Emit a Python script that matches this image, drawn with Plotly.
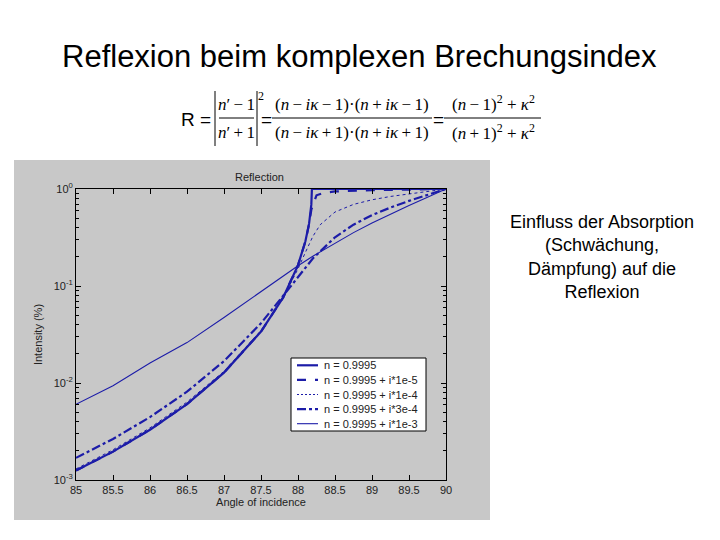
import plotly.graph_objects as go

W, H = 720, 540

# ---- data ----
angles_k0 = [85, 85.5, 86, 86.5, 87, 87.5, 87.8, 88, 88.1, 88.15, 88.18, 88.188, 88.5, 89, 89.5, 90]
refl_k0 = [0.00125, 0.00196, 0.0033, 0.00607, 0.0128, 0.0339, 0.0763, 0.164, 0.289, 0.442, 0.69, 1.0, 1.0, 1.0, 1.0, 1.0]

angles_k1 = [85, 85.5, 86, 86.5, 87, 87.5, 87.8, 88, 88.1, 88.15, 88.18, 88.2, 88.25, 88.35, 88.5, 89, 89.5, 90]
refl_k1 = [0.00125, 0.00196, 0.0033, 0.00607, 0.0128, 0.0339, 0.0763, 0.164, 0.288, 0.433, 0.611, 0.67, 0.862, 0.916, 0.943, 0.973, 0.989, 1.0]

angles_k2 = [85, 85.5, 86, 86.5, 87, 87.5, 87.8, 88, 88.1, 88.15, 88.2, 88.3, 88.5, 88.75, 89, 89.25, 89.5, 89.75, 90]
refl_k2 = [0.0013, 0.00205, 0.00345, 0.00636, 0.0132, 0.0348, 0.0761, 0.150, 0.222, 0.269, 0.324, 0.428, 0.579, 0.694, 0.774, 0.838, 0.894, 0.947, 1.0]

angles_k3 = [85, 85.5, 86, 86.5, 87, 87.5, 87.8, 88, 88.2, 88.5, 88.75, 89, 89.25, 89.5, 89.75, 90]
refl_k3 = [0.00169, 0.00265, 0.00445, 0.00813, 0.0168, 0.0413, 0.0793, 0.125, 0.192, 0.318, 0.429, 0.538, 0.644, 0.755, 0.872, 1.0]

angles_k4 = [85, 85.5, 86, 86.5, 87, 87.5, 87.8, 88, 88.2, 88.5, 88.75, 89, 89.25, 89.5, 89.75, 90]
refl_k4 = [0.00602, 0.00939, 0.0161, 0.0261, 0.0473, 0.0879, 0.128, 0.162, 0.203, 0.278, 0.355, 0.446, 0.551, 0.675, 0.823, 1.0]

series_names = ["n = 0.9995", "n = 0.9995 + i*1e-5", "n = 0.9995 + i*1e-4",
                "n = 0.9995 + i*3e-4", "n = 0.9995 + i*1e-3"]

x_ticks = [85, 85.5, 86, 86.5, 87, 87.5, 88, 88.5, 89, 89.5, 90]
x_tick_labels = ["85", "85.5", "86", "86.5", "87", "87.5", "88", "88.5", "89", "89.5", "90"]
y_ticks = [1e-3, 1e-2, 1e-1, 1.0]
y_tick_labels = ["10<sup>-3</sup>", "10<sup>-2</sup>", "10<sup>-1</sup>", "10<sup>0</sup>"]
y_minor = [m * d for d in (1e-3, 1e-2, 1e-1) for m in range(2, 10)]

# ---- styling ----
LINE = "#1c1ca8"
dashes = ["solid", "dash", "dot", "dashdot", "solid"]
widths = [2.2, 2.2, 1, 2.2, 1.1]
xs = [angles_k0, angles_k1, angles_k2, angles_k3, angles_k4]
ys = [refl_k0, refl_k1, refl_k2, refl_k3, refl_k4]

# the page body adds an 8 px offset; positions below are slide pixels
OFF = 8


def px(x):
    return (x - OFF) / W


def py(y):
    return 1 - (y - OFF) / H


fig = go.Figure()
for name, x, y, d, w in zip(series_names, xs, ys, dashes, widths):
    fig.add_trace(go.Scatter(x=x, y=y, mode="lines", name=name, showlegend=False,
                             line=dict(color=LINE, width=w, dash=d)))

# plot area pixels
PL, PR, PT, PB = 76, 446, 189, 480

axis_font = dict(family="Liberation Sans, Arial, sans-serif", size=11, color="#222")

fig.update_layout(
    width=W, height=H,
    margin=dict(l=0, r=0, t=0, b=0, pad=0, autoexpand=False),
    paper_bgcolor="white",
    plot_bgcolor="white",
    showlegend=False,
    xaxis=dict(domain=[px(PL), px(PR)], range=[85, 90],
               tickvals=x_ticks, ticktext=x_tick_labels,
               ticks="inside", ticklen=5, tickcolor="black",
               showline=True, linecolor="black", linewidth=1, mirror="ticks",
               showgrid=False, zeroline=False, tickfont=axis_font, automargin=False,
               title=dict(text="Angle of incidence", font=axis_font, standoff=2)),
    yaxis=dict(domain=[py(PB), py(PT)], type="log", range=[-3, 0],
               tickvals=y_ticks, ticktext=y_tick_labels,
               ticks="inside", ticklen=5, tickcolor="black",
               minor=dict(tickvals=y_minor, ticks="inside", ticklen=3, tickcolor="black", showgrid=False),
               showline=True, linecolor="black", linewidth=1, mirror="ticks",
               showgrid=False, zeroline=False, tickfont=axis_font, automargin=False,
               title=dict(text="Intensity (%)", font=axis_font, standoff=8)),
)

# gray figure panel behind the chart
fig.add_shape(type="rect", xref="paper", yref="paper",
              x0=px(14), x1=px(490), y0=py(520), y1=py(160),
              fillcolor="#c8c8c8", line=dict(width=0), layer="below")

ann = []
# slide title
ann.append(dict(text="Reflexion beim komplexen Brechungsindex", x=px(359), y=py(56),
                font=dict(family="Liberation Sans, Arial, sans-serif", size=31, color="black")))
# chart title
ann.append(dict(text="Reflection", x=px(260), y=py(177),
                font=dict(family="Liberation Sans, Arial, sans-serif", size=11, color="#222")))
# side text
ann.append(dict(text="Einfluss der Absorption<br>(Schwächung,<br>Dämpfung) auf die<br>Reflexion",
                x=px(602), y=py(257), align="center",
                font=dict(family="Liberation Sans, Arial, sans-serif", size=18, color="black")))

# formula
MF = dict(family="Liberation Serif, Times New Roman, serif", size=17, color="black")
SF = dict(family="Liberation Sans, Arial, sans-serif", size=19, color="black")
T = "\u2009"
ann.append(dict(text="R =", x=px(196), y=py(120), font=SF))
ann.append(dict(text=f"<i>n</i>′{T}−{T}1", x=px(236), y=py(104), font=MF))
ann.append(dict(text=f"<i>n</i>′{T}+{T}1", x=px(236), y=py(132), font=MF))
ann.append(dict(text="2", x=px(261), y=py(96), font=dict(MF, size=12)))
ann.append(dict(text="=", x=px(266), y=py(120), font=SF))
ann.append(dict(text=f"(<i>n</i>{T}−{T}<i>iκ</i>{T}−{T}1)·(<i>n</i>{T}+{T}<i>iκ</i>{T}−{T}1)", x=px(352), y=py(104), font=MF))
ann.append(dict(text=f"(<i>n</i>{T}−{T}<i>iκ</i>{T}+{T}1)·(<i>n</i>{T}+{T}<i>iκ</i>{T}+{T}1)", x=px(352), y=py(132), font=MF))
ann.append(dict(text="=", x=px(438), y=py(120), font=SF))
ann.append(dict(text=f"(<i>n</i>{T}−{T}1)<sup>2</sup> + <i>κ</i><sup>2</sup>", x=px(493), y=py(103), font=MF))
ann.append(dict(text=f"(<i>n</i>{T}+{T}1)<sup>2</sup> + <i>κ</i><sup>2</sup>", x=px(493), y=py(132), font=MF))

# legend box (drawn in the slide's compact MATLAB style)
LEG_L, LEG_T, LEG_R, LEG_B = 291, 358, 426, 431
leg_font = dict(family="Liberation Sans, Arial, sans-serif", size=11, color="#222")
row_h = (LEG_B - LEG_T) / len(series_names)
for i, name in enumerate(series_names):
    yc = LEG_T + row_h * (i + 0.5)
    ann.append(dict(text=name, x=px(322), y=py(yc), font=leg_font, xanchor="left"))
    fig.add_shape(type="line", xref="paper", yref="paper",
                  x0=px(297), x1=px(318), y0=py(yc), y1=py(yc),
                  line=dict(color=LINE, width=widths[i], dash=dashes[i] if dashes[i] != "dot" else "2px,2px"))

for a in ann:
    a.setdefault("xanchor", "center")
    fig.add_annotation(xref="paper", yref="paper", showarrow=False,
                       yanchor="middle", **a)

fig.add_shape(type="rect", xref="paper", yref="paper",
              x0=px(LEG_L), x1=px(LEG_R), y0=py(LEG_B), y1=py(LEG_T),
              fillcolor="white", line=dict(color="black", width=1), layer="below")

# fraction bars and absolute-value bars of the formula
for x0, x1 in [(219, 254), (272, 432), (444, 541)]:
    fig.add_shape(type="line", xref="paper", yref="paper",
                  x0=px(x0), x1=px(x1), y0=py(118), y1=py(118),
                  line=dict(color="black", width=1))
for xb in (215, 257):
    fig.add_shape(type="line", xref="paper", yref="paper",
                  x0=px(xb), x1=px(xb), y0=py(91), y1=py(146),
                  line=dict(color="black", width=1))

fig.write_html("out.html")
